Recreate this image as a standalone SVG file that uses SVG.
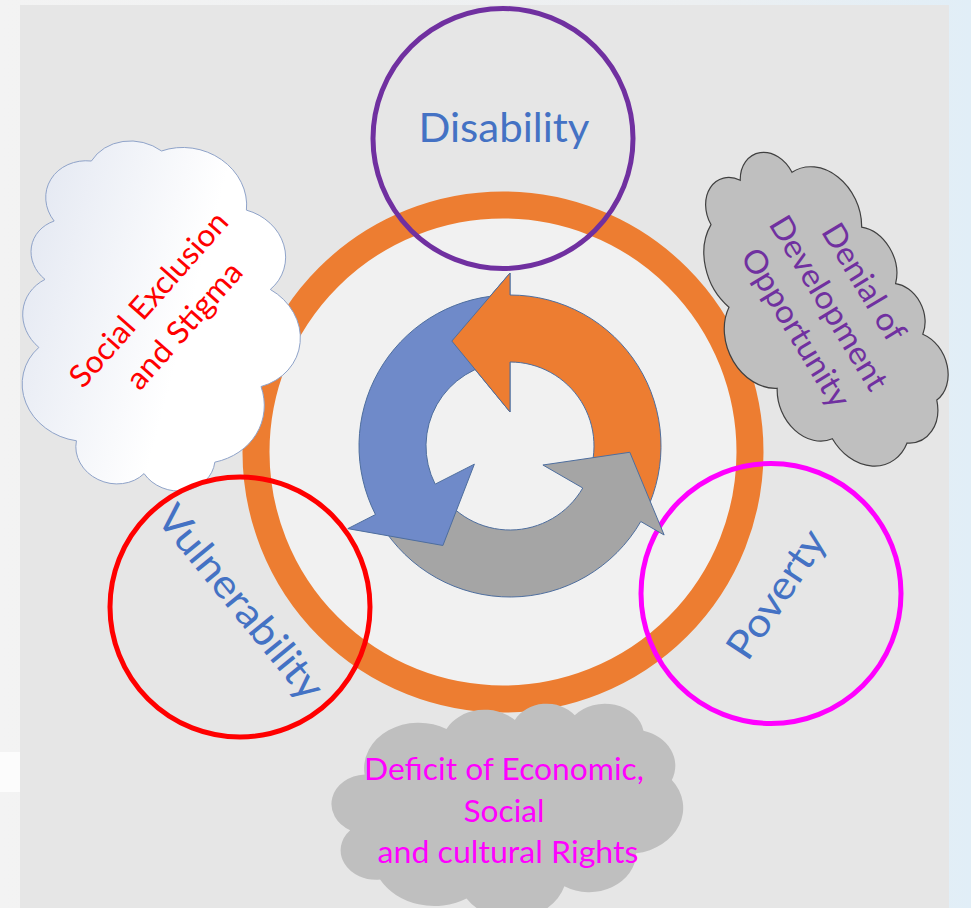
<svg xmlns="http://www.w3.org/2000/svg" width="971" height="908" viewBox="0 0 971 908">
<defs>
<linearGradient id="bg" x1="0" y1="0" x2="1" y2="0">
<stop offset="0" stop-color="#f3f3f3"/>
<stop offset="0.72" stop-color="#eceff1"/>
<stop offset="1" stop-color="#e1eef7"/>
</linearGradient>
<linearGradient id="cloudWhite" gradientUnits="userSpaceOnUse" x1="50" y1="0" x2="50" y2="100">
<stop offset="0" stop-color="#e6eaf3"/>
<stop offset="0.6" stop-color="#ffffff"/>
<stop offset="1" stop-color="#ffffff"/>
</linearGradient>
<path id="cloud" vector-effect="non-scaling-stroke" d="M9.03 33.26 A15.63 21.27 0 0 1 32.42 12.05 A12.34 16.82 0 0 1 51.98 7.95 A10.1 13.76 0 0 1 69.06 5.75 A11.24 15.27 0 0 1 88.71 12.92 A12.34 16.84 0 0 1 96.81 35.79 A15.68 21.34 0 0 1 86.59 69.92 A13.39 18.21 0 0 1 66.11 85.22 A15.63 21.33 0 0 1 38.15 90.9 A17.87 24.41 0 0 1 13.44 82.11 A10.09 13.7 0 0 1 4.9 59.15 A10.06 13.76 0 0 1 9.03 33.26 Z"/>
</defs>
<style>
.lbl { font-family: Lato, "Open Sans", "Liberation Sans", sans-serif; }
.ring { fill: #f1f1f1; stroke: #ED7D31; stroke-width: 27; }
.node { fill: none; stroke-width: 5; }
.arrow { stroke: #4E6E9E; stroke-width: 1; stroke-linejoin: miter; }
.blueTxt { fill: #4472C4; font-size: 40px; }
</style>
<g id="background">
<rect x="0" y="0" width="971" height="908" fill="url(#bg)"/>
<rect x="0" y="752" width="20" height="40" fill="#fcfcfc"/>
<rect x="20" y="5" width="929" height="903" fill="#e6e6e6"/>
</g>
<g id="cycle-ring">
<circle class="ring" cx="503" cy="452" r="247"/>
</g>
<g id="cloud-social-exclusion">
<use href="#cloud" transform="translate(159,317) rotate(-75) translate(-172,-142.5) scale(3.44,2.85)" fill="url(#cloudWhite)" stroke="#8FA3C9" stroke-width="1"/>
<text class="lbl" transform="translate(169,312) rotate(-48.5)" fill="#FF0000" font-size="31" text-anchor="middle">
<tspan x="0" y="-13" textLength="222" lengthAdjust="spacingAndGlyphs">Social Exclusion</tspan>
<tspan x="0" y="31" textLength="158" lengthAdjust="spacingAndGlyphs">and Stigma</tspan>
</text>
</g>
<g id="cloud-denial">
<use href="#cloud" transform="translate(818,311) rotate(66) translate(-167.5,-97.5) scale(3.35,1.95)" fill="#BFBFBF" stroke="#404040" stroke-width="1.2"/>
<text class="lbl" transform="translate(830,307) rotate(58.8)" fill="#7030A0" font-size="32" text-anchor="middle">
<tspan x="0" y="-31" textLength="131" lengthAdjust="spacingAndGlyphs">Denial of</tspan>
<tspan x="0" y="10" textLength="198" lengthAdjust="spacingAndGlyphs">Development</tspan>
<tspan x="0" y="51" textLength="180" lengthAdjust="spacingAndGlyphs">Opportunity</tspan>
</text>
</g>
<g id="cloud-deficit">
<use href="#cloud" transform="translate(333,703) scale(3.5,2.15)" fill="#BFBFBF"/>
<text class="lbl" fill="#FF00FF" font-size="31" text-anchor="middle">
<tspan x="508" y="780" textLength="280" lengthAdjust="spacingAndGlyphs">Deficit of Economic,</tspan>
<tspan x="508" y="822" textLength="81" lengthAdjust="spacingAndGlyphs">Social</tspan>
<tspan x="508" y="863" textLength="261" lengthAdjust="spacingAndGlyphs">and cultural Rights</tspan>
</text>
</g>
<g id="node-disability">
<circle class="node" cx="503" cy="138.5" r="130" stroke="#7030A0"/>
</g>
<g id="node-vulnerability">
<circle class="node" cx="240" cy="607" r="130" stroke="#FF0000"/>
</g>
<g id="node-poverty">
<circle class="node" cx="771" cy="593.5" r="130" stroke="#FF00FF"/>
</g>
<g id="connectors">
<path class="arrow" fill="#ED7D31" d="M645.72 512.19 A151 151 0 0 0 510 295 L510 273 L451.82 341.05 L510 412 L510 362 A84 84 0 0 1 585.5 482.82 Z"/>
<path class="arrow" fill="#A5A5A5" d="M380.57 523.77 A151 151 0 0 0 640.77 521.5 L664.15 535 L629.84 452.28 L542.91 465 L582.75 488 A84 84 0 0 1 438 489.26 Z"/>
<path class="arrow" fill="#6F8AC9" d="M499.47 295.37 A151 151 0 0 0 375.46 514.55 L347.84 528.63 L442.9 545.48 L474.36 464.16 L435.16 484.14 A84 84 0 0 1 504.14 362.2 Z"/>
<path fill="#ED7D31" d="M510 273 L451.82 341.05 L510 412 Z"/>
<path class="arrow" fill="none" d="M510 295 L510 273 L451.82 341.05 L510 412 L510 362"/>
</g>
<g id="labels">
<text class="lbl blueTxt" x="504" y="142" text-anchor="middle" textLength="171" lengthAdjust="spacingAndGlyphs">Disability</text>
<text class="lbl blueTxt" transform="translate(241,602) rotate(50.8)" x="0" y="14" text-anchor="middle" textLength="238" lengthAdjust="spacingAndGlyphs">Vulnerability</text>
<text class="lbl blueTxt" transform="translate(776,594) rotate(-56.5)" x="0" y="14" text-anchor="middle" textLength="146" lengthAdjust="spacingAndGlyphs">Poverty</text>
</g>
</svg>
